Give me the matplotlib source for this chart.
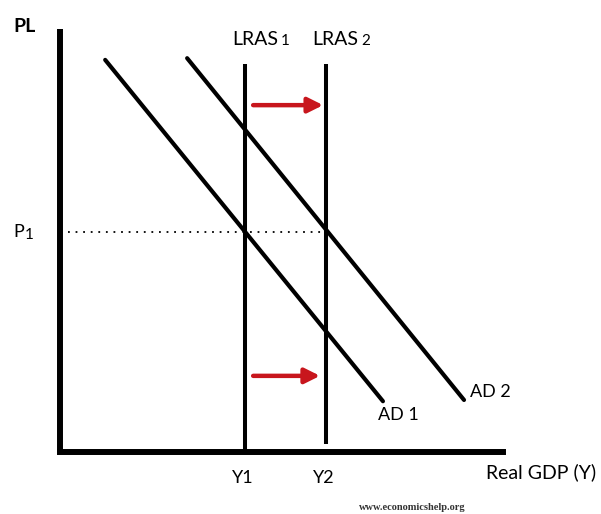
#!/usr/bin/env python3
"""
AD/LRAS diagram: long-run aggregate supply shifts right with aggregate demand.
"""

import matplotlib

matplotlib.use("Agg")

import matplotlib.pyplot as plt

# data (model units: output on x, price level on y)
y_levels = [4.18, 6.0]            # Y1, Y2
y_labels = ["Y1", "Y2"]
lras_top = [9.17, 9.17]
lras_bottom = [0.0, 0.19]
lras_names = ["LRAS", "LRAS"]
lras_subs = ["1", "2"]
p1_level = 5.2

ad1_x = [1.02, 7.29]
ad1_y = [9.27, 1.20]
ad2_x = [2.87, 9.12]
ad2_y = [9.31, 1.23]
ad_labels = ["AD 1", "AD 2"]

arrow_start = [4.36, 4.36]
arrow_end = [5.94, 5.87]
arrow_y = [8.2, 1.8]

FONT = ["Lato", "DejaVu Sans"]
RED = "#c8161d"

fig = plt.figure(figsize=(6.01, 5.14), dpi=100)
ax = fig.add_axes([60 / 601, 62 / 514, 443 / 601, 423 / 514])
ax.set_xlim(0, 10)
ax.set_ylim(0, 10)
for side in ["top", "right"]:
    ax.spines[side].set_visible(False)
for side in ["left", "bottom"]:
    ax.spines[side].set_linewidth(4.3)
    ax.spines[side].set_color("black")
ax.spines["left"].set_capstyle("butt")
ax.set_xticks([])
ax.set_yticks([])

# LRAS verticals
for x, lo, hi in zip(y_levels, lras_bottom, lras_top):
    ax.plot([x, x], [lo, hi], color="black", lw=2.9, solid_capstyle="butt", clip_on=False)

# AD curves
ax.plot(ad1_x, ad1_y, color="black", lw=3.0, solid_capstyle="round")
ax.plot(ad2_x, ad2_y, color="black", lw=3.0, solid_capstyle="round")

# price level dotted line
ax.plot([0.18, y_levels[1]], [p1_level, p1_level], color="black", lw=1.3,
        linestyle=(0, (1, 3.2)))

# shift arrows
for x0, x1, yy in zip(arrow_start, arrow_end, arrow_y):
    ax.annotate("", xy=(x1, yy), xytext=(x0, yy),
                arrowprops=dict(arrowstyle="-|>,head_length=0.9,head_width=0.45",
                                color=RED, lw=3.2, shrinkA=0, shrinkB=0))

# labels
ax.text(-0.8, 10.05, "PL", family=FONT, fontsize=14, fontweight="bold",
        ha="center", va="center")
ax.text(-0.8, p1_level, "P", family=FONT, fontsize=13, ha="right", va="center")
ax.text(-0.8, p1_level - 0.08, "1", family=FONT, fontsize=11, ha="left", va="center")

for x, name, sub in zip(y_levels, lras_names, lras_subs):
    ax.text(x - 0.3, 9.62, name, family=FONT, fontsize=14, ha="left", va="baseline",
            clip_on=False)
    ax.text(x + 0.8, 9.62, sub, family=FONT, fontsize=11, ha="left", va="baseline",
            clip_on=False)

for x, lab in zip(y_levels, y_labels):
    ax.text(x - 0.05, -0.62, lab, family=FONT, fontsize=13, ha="center", va="center",
            clip_on=False)

ax.text(ad1_x[1] + 0.35, ad1_y[1] - 0.33, ad_labels[0], family=FONT, fontsize=13,
        ha="center", va="center")
ax.text(ad2_x[1] + 0.6, ad2_y[1] + 0.18, ad_labels[1], family=FONT, fontsize=13,
        ha="center", va="center", clip_on=False)

fig.text(486 / 601, 1 - 472 / 514, "Real GDP (Y)", family=FONT, fontsize=14,
         ha="left", va="center")
fig.text(412 / 601, 1 - 508 / 514, "www.economicshelp.org", family="Liberation Serif",
         fontsize=7.5, fontweight="bold", ha="center", va="center", color="#333333")

fig.savefig("out.png", dpi=100, facecolor="white")
